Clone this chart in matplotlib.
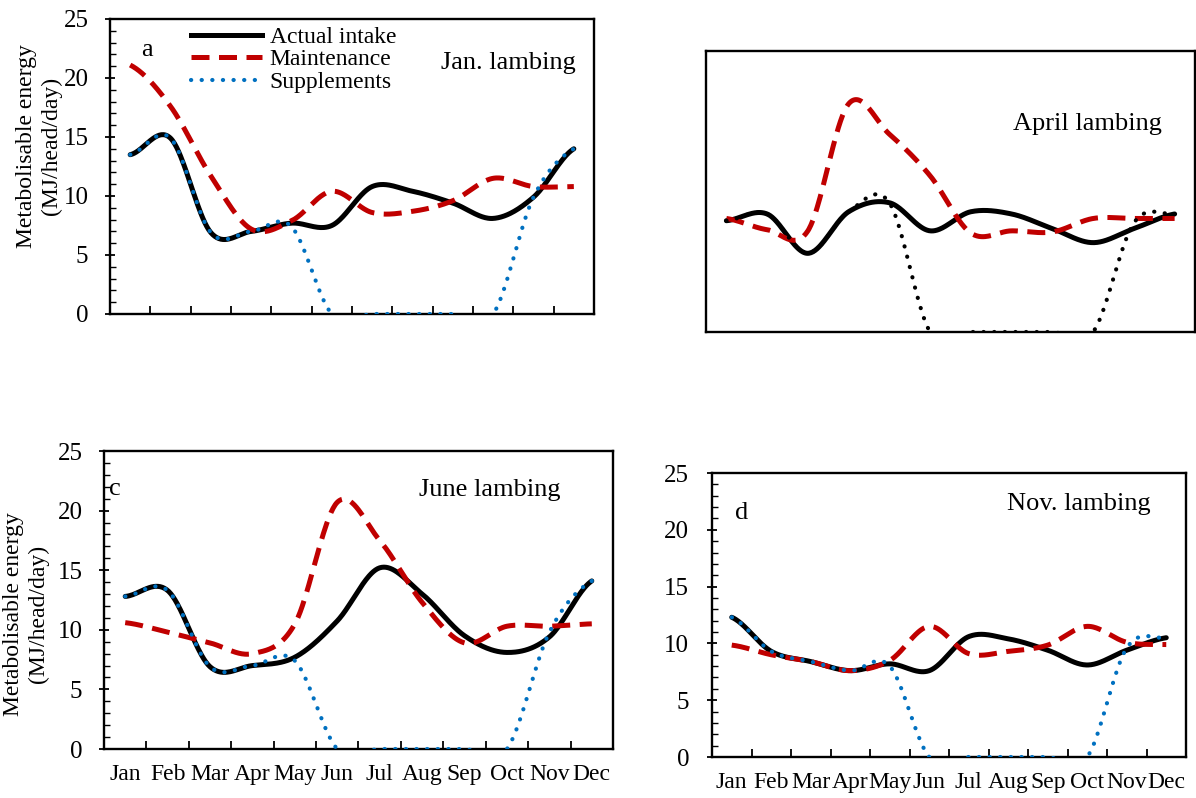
import numpy as np
import matplotlib
matplotlib.use("Agg")
import matplotlib.pyplot as plt
from matplotlib.lines import Line2D
from matplotlib.ticker import MultipleLocator, FixedLocator, NullFormatter

plt.rcParams['font.family'] = ['Liberation Serif', 'DejaVu Serif']

months = ['Jan', 'Feb', 'Mar', 'Apr', 'May', 'Jun', 'Jul', 'Aug', 'Sep', 'Oct', 'Nov', 'Dec']

intake_a = [13.5, 14.9, 6.9, 7.0, 7.7, 7.5, 10.8, 10.4, 9.4, 8.1, 9.9, 14.0]
maint_a = [21.1, 17.6, 11.7, 7.2, 7.9, 10.4, 8.6, 8.7, 9.6, 11.5, 10.8, 10.8]
supp_a = [13.5, 14.9, 6.9, 7.0, 7.4, 0, 0, 0, 0, 0, 9.9, 14.0]

intake_b = [9.9, 10.5, 7.0, 10.7, 11.5, 9.0, 10.7, 10.5, 9.2, 7.95, 9.2, 10.5]
maint_b = [10.1, 9.1, 9.0, 20.3, 17.6, 13.9, 8.8, 9.0, 8.9, 10.1, 10.1, 10.1]
supp_b = [9.9, 10.5, 7.0, 10.7, 11.5, 0, 0, 0, 0, 0, 9.7, 10.5]

intake_c = [12.8, 13.3, 6.9, 7.0, 7.7, 10.75, 15.2, 13.0, 9.5, 8.1, 9.4, 14.1]
maint_c = [10.6, 9.8, 8.9, 8.0, 10.5, 20.7, 17.5, 12.3, 8.9, 10.3, 10.3, 10.5]
supp_c = [12.8, 13.3, 6.9, 7.0, 7.4, 0, 0, 0, 0, 0, 9.8, 14.1]

intake_d = [12.3, 9.3, 8.4, 7.6, 8.2, 7.6, 10.6, 10.4, 9.4, 8.1, 9.4, 10.5]
maint_d = [9.85, 9.0, 8.4, 7.6, 8.5, 11.5, 9.1, 9.3, 9.85, 11.5, 10.1, 9.9]
supp_d = [12.3, 9.3, 8.4, 7.6, 8.0, 0, 0, 0, 0, 0, 9.6, 10.5]

RED = '#C00000'
BLUE = '#0070C0'
W, H = 1196, 798


def smooth(vals, n=40):
    """Catmull-Rom smoothing like spreadsheet 'smoothed line'."""
    y = np.asarray(vals, float)
    x = np.arange(len(y)) + 0.5
    m = np.zeros_like(y)
    m[1:-1] = (y[2:] - y[:-2]) / 2
    m[0] = (y[1] - y[0]) / 2
    m[-1] = (y[-1] - y[-2]) / 2
    xs, ys = [], []
    for i in range(len(y) - 1):
        t = np.linspace(0, 1, n, endpoint=False)
        h00 = 2 * t**3 - 3 * t**2 + 1
        h10 = t**3 - 2 * t**2 + t
        h01 = -2 * t**3 + 3 * t**2
        h11 = t**3 - t**2
        ys.append(h00 * y[i] + h10 * m[i] + h01 * y[i + 1] + h11 * m[i + 1])
        xs.append(x[i] + t)
    xs.append([x[-1]])
    ys.append([y[-1]])
    return np.concatenate(xs), np.concatenate(ys)


def add_axes(l, t, r, b):
    return fig.add_axes([l / W, 1 - b / H, (r - l) / W, (b - t) / H])


fig = plt.figure(figsize=(W / 100, H / 100), dpi=100)

ax_a = add_axes(110, 19, 594, 314)
ax_b = add_axes(706, 51, 1195, 332)
ax_c = add_axes(104, 451, 613, 749)
ax_d = add_axes(712, 473, 1186, 757)

panels = [
    (ax_a, intake_a, maint_a, supp_a, BLUE),
    (ax_b, intake_b, maint_b, supp_b, 'black'),
    (ax_c, intake_c, maint_c, supp_c, BLUE),
    (ax_d, intake_d, maint_d, supp_d, BLUE),
]

DOTS = (0.05, 2.5)

for ax, intake, maint, supp, scol in panels:
    xs, ys = smooth(intake)
    ax.plot(xs, ys, color='black', lw=3.6, solid_capstyle='round', zorder=2)
    xs, ys = smooth(maint)
    ax.plot(xs, ys, color=RED, lw=3.6, dashes=(3.6, 1.9), dash_capstyle='butt', zorder=3)
    xs, ys = smooth(supp)
    ax.plot(xs, ys, color=scol, lw=3.0, dashes=DOTS, dash_capstyle='round', zorder=4)
    ax.set_xlim(0, 12)
    ax.set_ylim(0, 25)
    for sp in ax.spines.values():
        sp.set_linewidth(1.7)

# axis ticks
for ax, ypad in ((ax_a, 12), (ax_c, 12), (ax_d, 13)):
    ax.yaxis.set_major_locator(MultipleLocator(5))
    ax.yaxis.set_minor_locator(MultipleLocator(1))
    ax.tick_params(axis='y', which='major', direction='inout', length=7, width=1.3,
                   labelsize=18, pad=ypad)
    ax.tick_params(axis='y', which='minor', direction='in', length=4, width=1.0)
    ax.xaxis.set_major_locator(FixedLocator(np.arange(1, 12)))
    ax.xaxis.set_major_formatter(NullFormatter())
    ax.tick_params(axis='x', which='major', direction='in', length=6, width=1.3)
    ax.tick_params(axis='y', which='both', right=False)
    ax.tick_params(axis='x', which='both', top=False)

for ax in (ax_c, ax_d):
    ax.xaxis.set_minor_locator(FixedLocator(np.arange(12) + 0.5))
    ax.set_xticklabels(months, minor=True)
    ax.tick_params(axis='x', which='minor', length=0, labelsize=17, pad=11)

ax_b.set_xticks([])
ax_b.set_yticks([])

# legend in panel a
handles = [
    Line2D([], [], color='black', lw=3.6),
    Line2D([], [], color=RED, lw=3.6, dashes=(3.6, 1.9)),
    Line2D([], [], color=BLUE, lw=3.0, dashes=DOTS, dash_capstyle='round'),
]
ax_a.legend(handles, ['Actual intake', 'Maintenance', 'Supplements'],
            loc='upper left', bbox_to_anchor=(0.167, 0.975), frameon=False,
            fontsize=17, handlelength=3.0, handletextpad=0.34, labelspacing=0.04,
            borderpad=0, borderaxespad=0)

# panel annotations
fig.text(147 / W, 1 - 50 / H, 'a', fontsize=19, ha='center', va='center')
fig.text(441 / W, 1 - 63 / H, 'Jan. lambing', fontsize=19, ha='left', va='center')
fig.text(1013 / W, 1 - 124 / H, 'April lambing', fontsize=19, ha='left', va='center')
fig.text(115 / W, 1 - 489 / H, 'c', fontsize=19, ha='center', va='center')
fig.text(419 / W, 1 - 490 / H, 'June lambing', fontsize=19, ha='left', va='center')
fig.text(742 / W, 1 - 513 / H, 'd', fontsize=19, ha='center', va='center')
fig.text(1007 / W, 1 - 504 / H, 'Nov. lambing', fontsize=19, ha='left', va='center')

# y labels
for x1, x2, yc in ((27, 51, 146), (14, 38, 614)):
    fig.text(x1 / W, 1 - yc / H, 'Metabolisable energy', rotation=90, fontsize=17,
             ha='center', va='center')
    fig.text(x2 / W, 1 - yc / H, '(MJ/head/day)', rotation=90, fontsize=17,
             ha='center', va='center')

fig.savefig('out.png', dpi=100)
